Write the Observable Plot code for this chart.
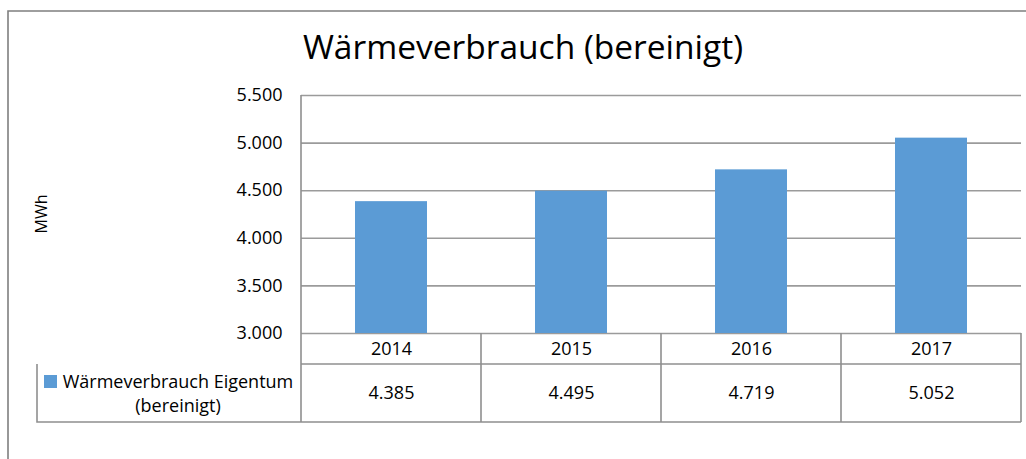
<!DOCTYPE html>
<html>
<head>
<meta charset="utf-8">
<script src="https://cdn.jsdelivr.net/npm/d3@7"></script>
<script src="https://cdn.jsdelivr.net/npm/@observablehq/plot@0.6"></script>
<style>
  html, body { margin: 0; padding: 0; background: #fff; }
  #chart { position: relative; width: 1026px; height: 459px; overflow: hidden; }
</style>
</head>
<body>
<div id="chart"></div>
<script>
// ---- data ----
const chartTitle = "Wärmeverbrauch (bereinigt)";
const yLabel = "MWh";
const years = ["2014", "2015", "2016", "2017"];
const values = [4385, 4495, 4719, 5052];
const valueLabels = ["4.385", "4.495", "4.719", "5.052"];
const legendLines = ["Wärmeverbrauch Eigentum", "(bereinigt)"];
const yDomain = [3000, 5500];
const yTicks = [3000, 3500, 4000, 4500, 5000, 5500];
const yTickLabels = ["3.000", "3.500", "4.000", "4.500", "5.000", "5.500"];

const barColor = "#5b9bd5";
const gridColor = "#9b9b9b";
const tableColor = "#8f8f8f";
const font = "'Open Sans', sans-serif";

const data = years.map((y, i) => ({year: y, value: values[i], label: valueLabels[i]}));

// custom mark: data table, legend cell, axis line, title, outer border
function decorations(index, scales, vals, dims) {
  const left = dims.marginLeft;
  const right = dims.width - dims.marginRight;
  const top = dims.marginTop;
  const bottom = dims.height - dims.marginBottom;
  const step = (right - left) / years.length;
  const row1 = bottom + 31;
  const row2 = row1 + 58;
  const legendLeft = 37;
  const g = d3.create("svg:g");

  // outer chart border
  g.append("path")
    .attr("d", `M8,${dims.height + 5}V11H${dims.width + 5}`)
    .attr("fill", "none").attr("stroke", "#7f7f7f").attr("stroke-width", 1.6);

  // title
  g.append("text")
    .attr("x", 523).attr("y", 59)
    .attr("text-anchor", "middle")
    .attr("font-family", font).attr("font-size", 33.5).attr("fill", "#000")
    .text(chartTitle);

  // y axis title
  g.append("text")
    .attr("transform", `translate(47,${(top + bottom) / 2}) rotate(-90)`)
    .attr("text-anchor", "middle")
    .attr("font-family", font).attr("font-size", 16).attr("fill", "#000")
    .text(yLabel);

  const lines = g.append("g")
    .attr("stroke", tableColor).attr("stroke-width", 1.6).attr("fill", "none");
  // left axis line of plot
  lines.append("path").attr("d", `M${left},${top}V${row2}`);
  // header row lines
  lines.append("path").attr("d", `M${left},${row1}H${right}`);
  lines.append("path").attr("d", `M${legendLeft},${row1}V${row2}H${right}`);
  for (let i = 1; i <= years.length; i++) {
    const x = left + i * step;
    lines.append("path").attr("d", `M${x},${bottom}V${row2}`);
  }

  // legend cell
  const cx = (legendLeft + left) / 2 + 9;
  g.append("rect")
    .attr("x", 44).attr("y", row1 + 11).attr("width", 13).attr("height", 13)
    .attr("fill", barColor);
  legendLines.forEach((t, i) => {
    g.append("text")
      .attr("x", cx).attr("y", row1 + 24 + i * 24)
      .attr("text-anchor", "middle")
      .attr("font-family", font).attr("font-size", 18).attr("fill", "#000")
      .text(t);
  });
  return g.node();
}

const chart = Plot.plot({
  width: 1026,
  height: 459,
  marginLeft: 301,
  marginRight: 5,
  marginTop: 95,
  marginBottom: 126,
  style: {fontFamily: font, fontSize: "18px", color: "#000", background: "white", overflow: "visible"},
  x: {domain: years, paddingInner: 0.6, paddingOuter: 0.3, axis: null},
  y: {
    domain: yDomain,
    ticks: yTicks,
    tickSize: 0,
    tickPadding: 19,
    tickFormat: d => yTickLabels[yTicks.indexOf(d)],
    label: null
  },
  marks: [
    Plot.ruleY(yTicks, {stroke: gridColor, strokeWidth: 1.6, strokeOpacity: 1}),
    Plot.barY(data, {x: "year", y1: () => yDomain[0], y2: "value", fill: barColor}),
    Plot.text(data, {x: "year", text: "year", frameAnchor: "bottom", dy: 16, lineAnchor: "middle", fontSize: 18, fill: "#000"}),
    Plot.text(data, {x: "year", text: "label", frameAnchor: "bottom", dy: 60, lineAnchor: "middle", fontSize: 18, fill: "#000"}),
    decorations
  ]
});
document.getElementById("chart").append(chart);
</script>
</body>
</html>
